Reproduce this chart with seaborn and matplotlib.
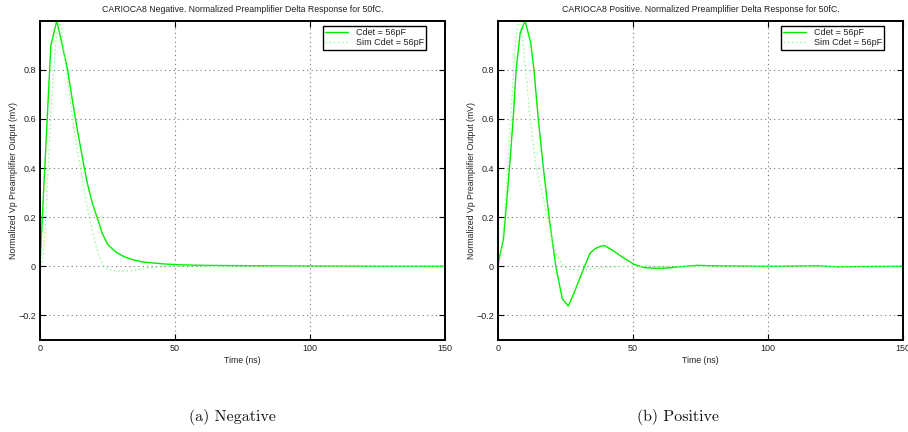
import matplotlib
matplotlib.use("Agg")
import matplotlib.pyplot as plt
import seaborn as sns
import pandas as pd

# Negative polarity: measured and simulated normalized delta response
neg_t_meas = [0, 4, 6.2, 7.8, 10.2, 13.1, 16.4, 17.7, 19.3, 21.1, 23, 25.1, 28.1, 31,
              34.3, 38, 45.4, 52, 60, 70, 85, 100, 120, 150]
neg_v_meas = [0.01, 0.90, 1.0, 0.922, 0.80, 0.60, 0.40, 0.33, 0.26, 0.20, 0.135, 0.088,
              0.058, 0.04, 0.027, 0.018, 0.010, 0.006, 0.004, 0.003, 0.002, 0.001, 0.0005, 0.0]
neg_t_sim = [0, 1, 2, 3, 4, 5, 6, 7.2, 8, 9, 10, 11, 12, 13, 14, 15, 16, 17, 18, 19, 20,
             21, 22, 23, 24, 26, 29, 33, 37, 42, 48, 60, 150]
neg_v_sim = [0, 0.03, 0.17, 0.40, 0.62, 0.80, 0.93, 1.0, 0.96, 0.86, 0.77, 0.69, 0.61,
             0.53, 0.46, 0.40, 0.33, 0.27, 0.21, 0.16, 0.115, 0.075, 0.04, 0.012, -0.005,
             -0.015, -0.02, -0.019, -0.012, -0.005, -0.001, 0.0, 0.0]

# Positive polarity: measured and simulated normalized delta response
pos_t_meas = [0, 2, 4.3, 5.6, 6.7, 8.2, 10, 12.1, 13.3, 14.9, 16.8, 18.9, 21.4, 23.8, 26,
              28.1, 30.4, 34.1, 36, 38, 39.5, 42.3, 46, 50.4, 54, 57.8, 62.7, 67, 74, 80,
              90, 100, 110, 118, 126, 135, 150]
pos_v_meas = [0.01, 0.11, 0.41, 0.60, 0.80, 0.95, 1.0, 0.91, 0.80, 0.60, 0.40, 0.20, 0.0,
              -0.132, -0.162, -0.11, -0.045, 0.054, 0.072, 0.082, 0.084, 0.066, 0.038,
              0.008, -0.005, -0.008, -0.007, -0.002, 0.004, 0.002, 0.001, 0.0, 0.001,
              0.002, -0.002, -0.001, 0.0]
pos_t_sim = [0, 1, 2, 3, 4, 5, 6, 7, 7.5, 8, 9, 10.2, 11.9, 14, 16.3, 18.3, 20.1, 22,
             24.4, 26.9, 30.6, 35.6, 40.5, 46, 60, 150]
pos_v_sim = [0, 0.04, 0.15, 0.30, 0.48, 0.66, 0.85, 0.97, 1.0, 0.99, 0.94, 0.80, 0.60,
             0.41, 0.30, 0.20, 0.106, 0.038, 0.0, -0.013, -0.016, -0.01, -0.003, 0.0,
             0.0, 0.0]

titles = ["CARIOCA8 Negative. Normalized Preamplifier Delta Response for 50fC.",
          "CARIOCA8 Positive. Normalized Preamplifier Delta Response for 50fC."]
captions = ["(a) Negative", "(b) Positive"]
labels = ["Cdet = 56pF", "Sim Cdet = 56pF"]
xticks = [0, 50, 100, 150]
yticks = [-0.2, 0, 0.2, 0.4, 0.6, 0.8]
ytick_labels = ["\u22120.2", "0", "0.2", "0.4", "0.6", "0.8"]

sns.set_theme(style="white")
plt.rcParams["font.family"] = ["Liberation Sans", "DejaVu Sans"]

fig = plt.figure(figsize=(9.08, 4.32), dpi=100)
axes = [fig.add_axes([0.0441, 0.213, 0.4460, 0.739]),
        fig.add_axes([0.5485, 0.213, 0.4460, 0.739])]

datasets = [
    (neg_t_meas, neg_v_meas, neg_t_sim, neg_v_sim),
    (pos_t_meas, pos_v_meas, pos_t_sim, pos_v_sim),
]

green = "#00ee00"
light_green = "#8cff8c"

for ax, (tm, vm, ts, vs), title in zip(axes, datasets, titles):
    meas = pd.DataFrame({"t": tm, "v": vm})
    sim = pd.DataFrame({"t": ts, "v": vs})
    sns.lineplot(data=meas, x="t", y="v", ax=ax, color=green, lw=1.0,
                 estimator=None, sort=False, label=labels[0])
    sns.lineplot(data=sim, x="t", y="v", ax=ax, color=light_green, lw=1.0,
                 linestyle=(0, (1, 2)), estimator=None, sort=False, label=labels[1])
    ax.set_xlim(0, 150)
    ax.set_ylim(-0.3, 1.0)
    ax.set_xticks(xticks)
    ax.set_xticklabels([str(x) for x in xticks])
    ax.set_yticks(yticks)
    ax.set_yticklabels(ytick_labels)
    ax.grid(True, color="0.45", linestyle=(0, (1, 3)), lw=0.8)
    ax.tick_params(direction="in", length=4, width=0.8, labelsize=6.5,
                   top=True, right=True, bottom=True, left=True, color="black",
                   labelcolor="#222222", pad=3)
    for s in ax.spines.values():
        s.set_color("black")
        s.set_linewidth(1.4)
    ax.set_title(title, fontsize=6.3, color="#222222", pad=6)
    ax.set_xlabel("Time (ns)", fontsize=6.3, color="#222222", labelpad=2)
    ax.set_ylabel("Normalized Vp Preamplifier Output (mV)", fontsize=6.3,
                  color="#222222", labelpad=0)
    leg = ax.legend(loc="upper right", bbox_to_anchor=(0.953, 0.983), fontsize=6.5,
                    frameon=True, fancybox=False, handlelength=2.6, borderpad=0.25,
                    labelspacing=0.1, borderaxespad=0.0, handletextpad=0.8)
    leg.get_frame().set_edgecolor("black")
    leg.get_frame().set_linewidth(1.0)
    leg.get_frame().set_alpha(1.0)
    for t in leg.get_texts():
        t.set_color("#222222")

for x, cap in zip([0.2555, 0.7467], captions):
    fig.text(x, 0.016, cap, ha="center", va="bottom", fontsize=11.5,
             family=["cmr10", "DejaVu Serif"], color="#111111")

fig.savefig("out.png", dpi=100)
